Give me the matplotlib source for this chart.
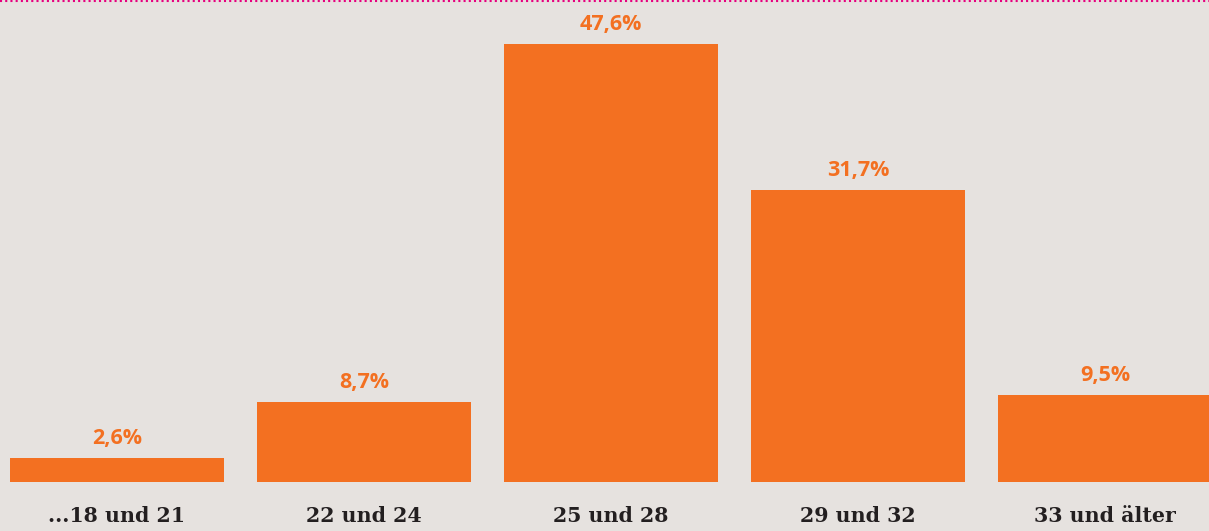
import matplotlib.pyplot as plt
import numpy as np

categories = ["...18 und 21", "22 und 24", "25 und 28", "29 und 32", "33 und älter"]
values = [2.6, 8.7, 47.6, 31.7, 9.5]
value_labels = ["2,6%", "8,7%", "47,6%", "31,7%", "9,5%"]

bg = "#e6e2df"
orange = "#f37021"
dark = "#231f20"

fig = plt.figure(figsize=(12.09, 5.31), dpi=100, facecolor=bg)
ax = fig.add_axes([0, 0, 1, 1])
ax.set_facecolor(bg)

x = np.arange(len(categories))
ax.bar(x, values, width=0.866, color=orange)

px = 9.2  # pixels per percent
ax.set_xlim(-117 / 247, (1209 - 117) / 247)
ax.set_ylim(-(531 - 482) / px, 482 / px)

for xi, v, lab in zip(x, values, value_labels):
    ax.annotate(lab, (xi, v), xytext=(0, 6.5), textcoords="offset points",
                ha="center", va="bottom", color=orange, fontsize=15.5,
                fontweight="bold", family="Open Sans")

for xi, cat in zip(x, categories):
    ax.text(xi, -34 / px, cat, ha="center", va="center", color=dark,
            fontsize=14.8, fontweight="bold", family="DejaVu Serif")

ax.axis("off")
# pink dotted rule at the top
fig.add_artist(plt.Line2D([0, 1], [0.998, 0.998], transform=fig.transFigure,
                          color="#e6007e", lw=1.5, linestyle=(0, (1, 1.5))))

fig.savefig("out.png", dpi=100, facecolor=bg)
